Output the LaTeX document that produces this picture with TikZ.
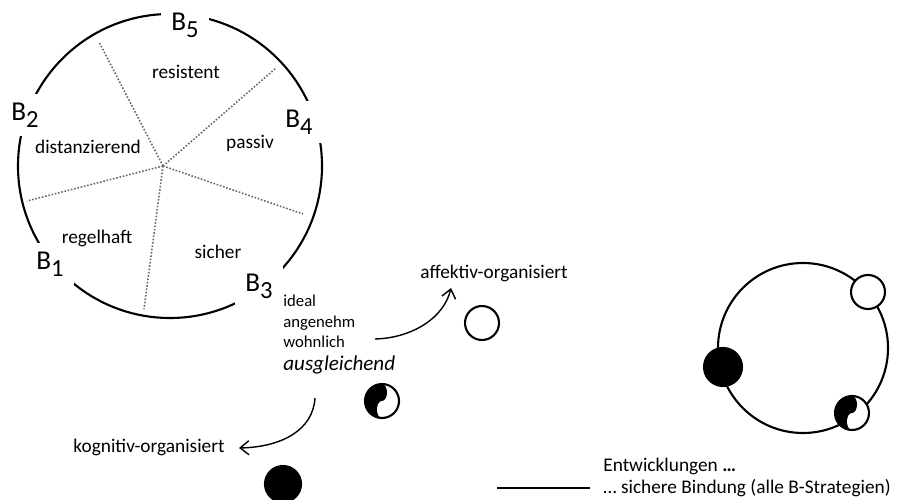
\documentclass[tikz,border=0pt]{standalone}
\usepackage{fontspec}
\setmainfont{Carlito}
\usetikzlibrary{arrows.meta}
\newcommand{\Bsub}[1]{B\raisebox{-4pt}{\fontsize{14}{14}\selectfont #1}}

\begin{document}
\begin{tikzpicture}[x=0.02cm,y=-0.02cm,
   font=\fontsize{11}{13}\selectfont,
   blabel/.style={fill=white,inner xsep=6pt,inner ysep=5pt,font=\fontsize{15.5}{17}\selectfont},
   seg/.style={fill=white,inner sep=2pt},
   spoke/.style={densely dotted,black!60,line width=0.9pt},
   ring/.style={line width=1.2pt},
   ball/.style={circle,draw,line width=1.2pt,fill=white,minimum size=0.68cm,inner sep=0pt},
   full/.style={ball,fill=black,minimum size=0.72cm},
   halfmoon/.style={ball,path picture={
      \fill[black] (path picture bounding box.north west) rectangle (path picture bounding box.south);
      \fill[black] (path picture bounding box.center) ++(0,-8.5) ellipse[x radius=5,y radius=8.5];
      \fill[white] (path picture bounding box.center) ++(0,8.5) ellipse[x radius=5,y radius=8.5];}},
   bend arrow/.style={-{Straight Barb[length=5pt,width=8pt]},line width=0.8pt}
  ]
  \useasboundingbox (0,0) rectangle (899,500);

  % wheel of the five strategies
  \coordinate (wheel) at (170,166);
  \coordinate (hub) at (163,166);
  \draw[ring] (wheel) circle[radius=152];
  \foreach \x/\y [count=\i] in {99/42,276/68,303/214,144/309,27/201}
    \draw[spoke] (hub) -- (\x,\y) coordinate (end\i);

  \node[blabel] (b5) at (185,25) {\Bsub{5}};
  \node[blabel] (b2) at (25,115) {\Bsub{2}};
  \node[blabel] (b4) at (299,122) {\Bsub{4}};
  \node[blabel] (b1) at (50,264) {\Bsub{1}};
  \node[blabel] (b3) at (259,286) {\Bsub{3}};

  \node[seg] (resistent) at (186,72) {resistent};
  \node[seg] (distanz) at (88,147) {distanzierend};
  \node[seg] (passiv) at (250,143) {passiv};
  \node[seg] (regel) at (97,238) {regelhaft};
  \node[seg] (sicher) at (218,252) {sicher};

  % B3 description
  \node[anchor=base west,inner sep=0pt,font=\fontsize{9.5}{11}\selectfont] (ideal) at (283,306) {ideal};
  \node[anchor=base west,inner sep=0pt,font=\fontsize{9.5}{11}\selectfont] (angenehm) at (283,327) {angenehm};
  \node[anchor=base west,inner sep=0pt,font=\fontsize{9.5}{11}\selectfont] (wohnlich) at (283,347) {wohnlich};
  \node[anchor=base west,inner sep=0pt,font=\fontsize{12}{14}\selectfont\itshape] (ausgl) at (283,370) {ausgleichend};

  % two directions
  \node (affektiv) at (494,273) {affektiv-organisiert};
  \node (kognitiv) at (149,447) {kognitiv-organisiert};
  \coordinate (startA) at (375,339);
  \coordinate (endA) at (451,288);
  \coordinate (startK) at (315,398);
  \coordinate (endK) at (239,448);
  \draw[bend arrow] (startA) .. controls (412,338) and (444,318) .. (endA);
  \draw[bend arrow] (startK) .. controls (313,430) and (282,447) .. (endK);

  \node[ball] (open) at (482,323) {};
  \node[halfmoon] (mixed) at (382,401) {};
  \node[full] (dark) at (283,484) {};

  % secure attachment ring
  \coordinate (orbit) at (803,348);
  \draw[ring] (orbit) circle[radius=85];
  \node[ball] (open2) at (868,292) {};
  \node[full,minimum size=0.76cm] (dark2) at (723,367) {};
  \node[halfmoon] (mixed2) at (852,413) {};

  % legend
  \coordinate (legL) at (497,488);
  \coordinate (legR) at (590,488);
  \draw[line width=1.1pt] (legL) -- (legR);
  \node[anchor=base west,inner sep=0pt] (entw) at (603,471) {Entwicklungen \textbf{…}};
  \node[anchor=base west,inner sep=0pt] (bindung) at (603,493) {… sichere Bindung (alle B-Strategien)};
\end{tikzpicture}
\end{document}
